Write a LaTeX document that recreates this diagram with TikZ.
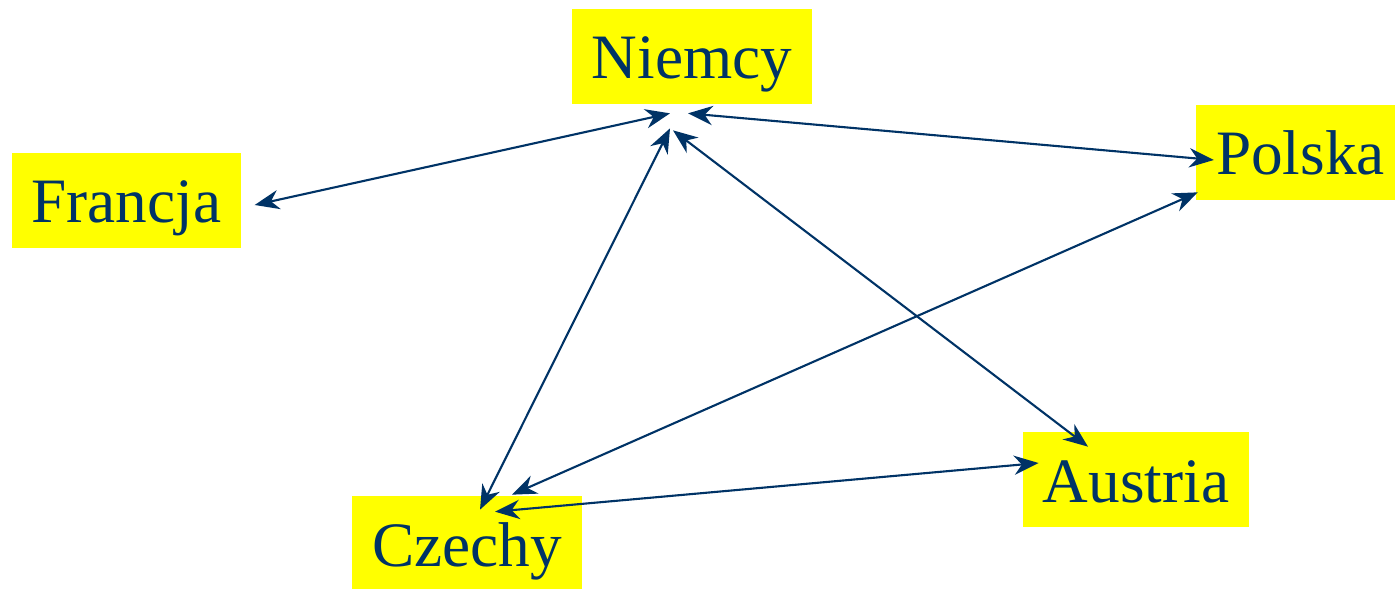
\documentclass[tikz,border=0pt]{standalone}
\usepackage{fontspec}
\setmainfont{Liberation Serif}
\usetikzlibrary{arrows.meta}
\definecolor{granat}{RGB}{0,51,102}
\definecolor{zolty}{RGB}{255,255,0}

\begin{document}
\begin{tikzpicture}[x=0.02cm, y=-0.02cm,
	kraj/.style={fill=zolty, text=granat, inner xsep=0.4cm, inner ysep=0pt,
		text height=1.4cm, text depth=0.5cm, font=\fontsize{36}{40}\selectfont},
	link/.style={draw=granat, line width=1.2pt,
		{Stealth[length=14pt, width=11pt, inset=4.5pt]}-{Stealth[length=14pt, width=11pt, inset=4.5pt]}}]
	\useasboundingbox (0,0) rectangle (1395,588);
	\node[kraj] (NI) at (692, 56.5) {Niemcy};
	\node[kraj] (FR) at (126.5, 200.5) {Francja};
	\node[kraj] (PL) at (1300.5, 152.5) {Polska};
	\node[kraj] (AT) at (1136, 479.5) {Austria};
	\node[kraj] (CZ) at (467, 543.5) {Czechy};
	\draw[link] ([shift={(-22,9)}]NI.south) -- ([shift={(13,4.5)}]FR.east);
	\draw[link] ([shift={(-4,9)}]NI.south) -- ([shift={(18,7.5)}]PL.west);
	\draw[link] ([shift={(-22,24)}]NI.south) -- ([shift={(13,14)}]CZ.north);
	\draw[link] ([shift={(-19,26)}]NI.south) -- ([shift={(-48,15)}]AT.north);
	\draw[link] ([shift={(45,-1)}]CZ.north) -- ([shift={(2,-8)}]PL.south west);
	\draw[link] ([shift={(28,16)}]CZ.north) -- ([shift={(16,-16.5)}]AT.west);
\end{tikzpicture}
\end{document}
